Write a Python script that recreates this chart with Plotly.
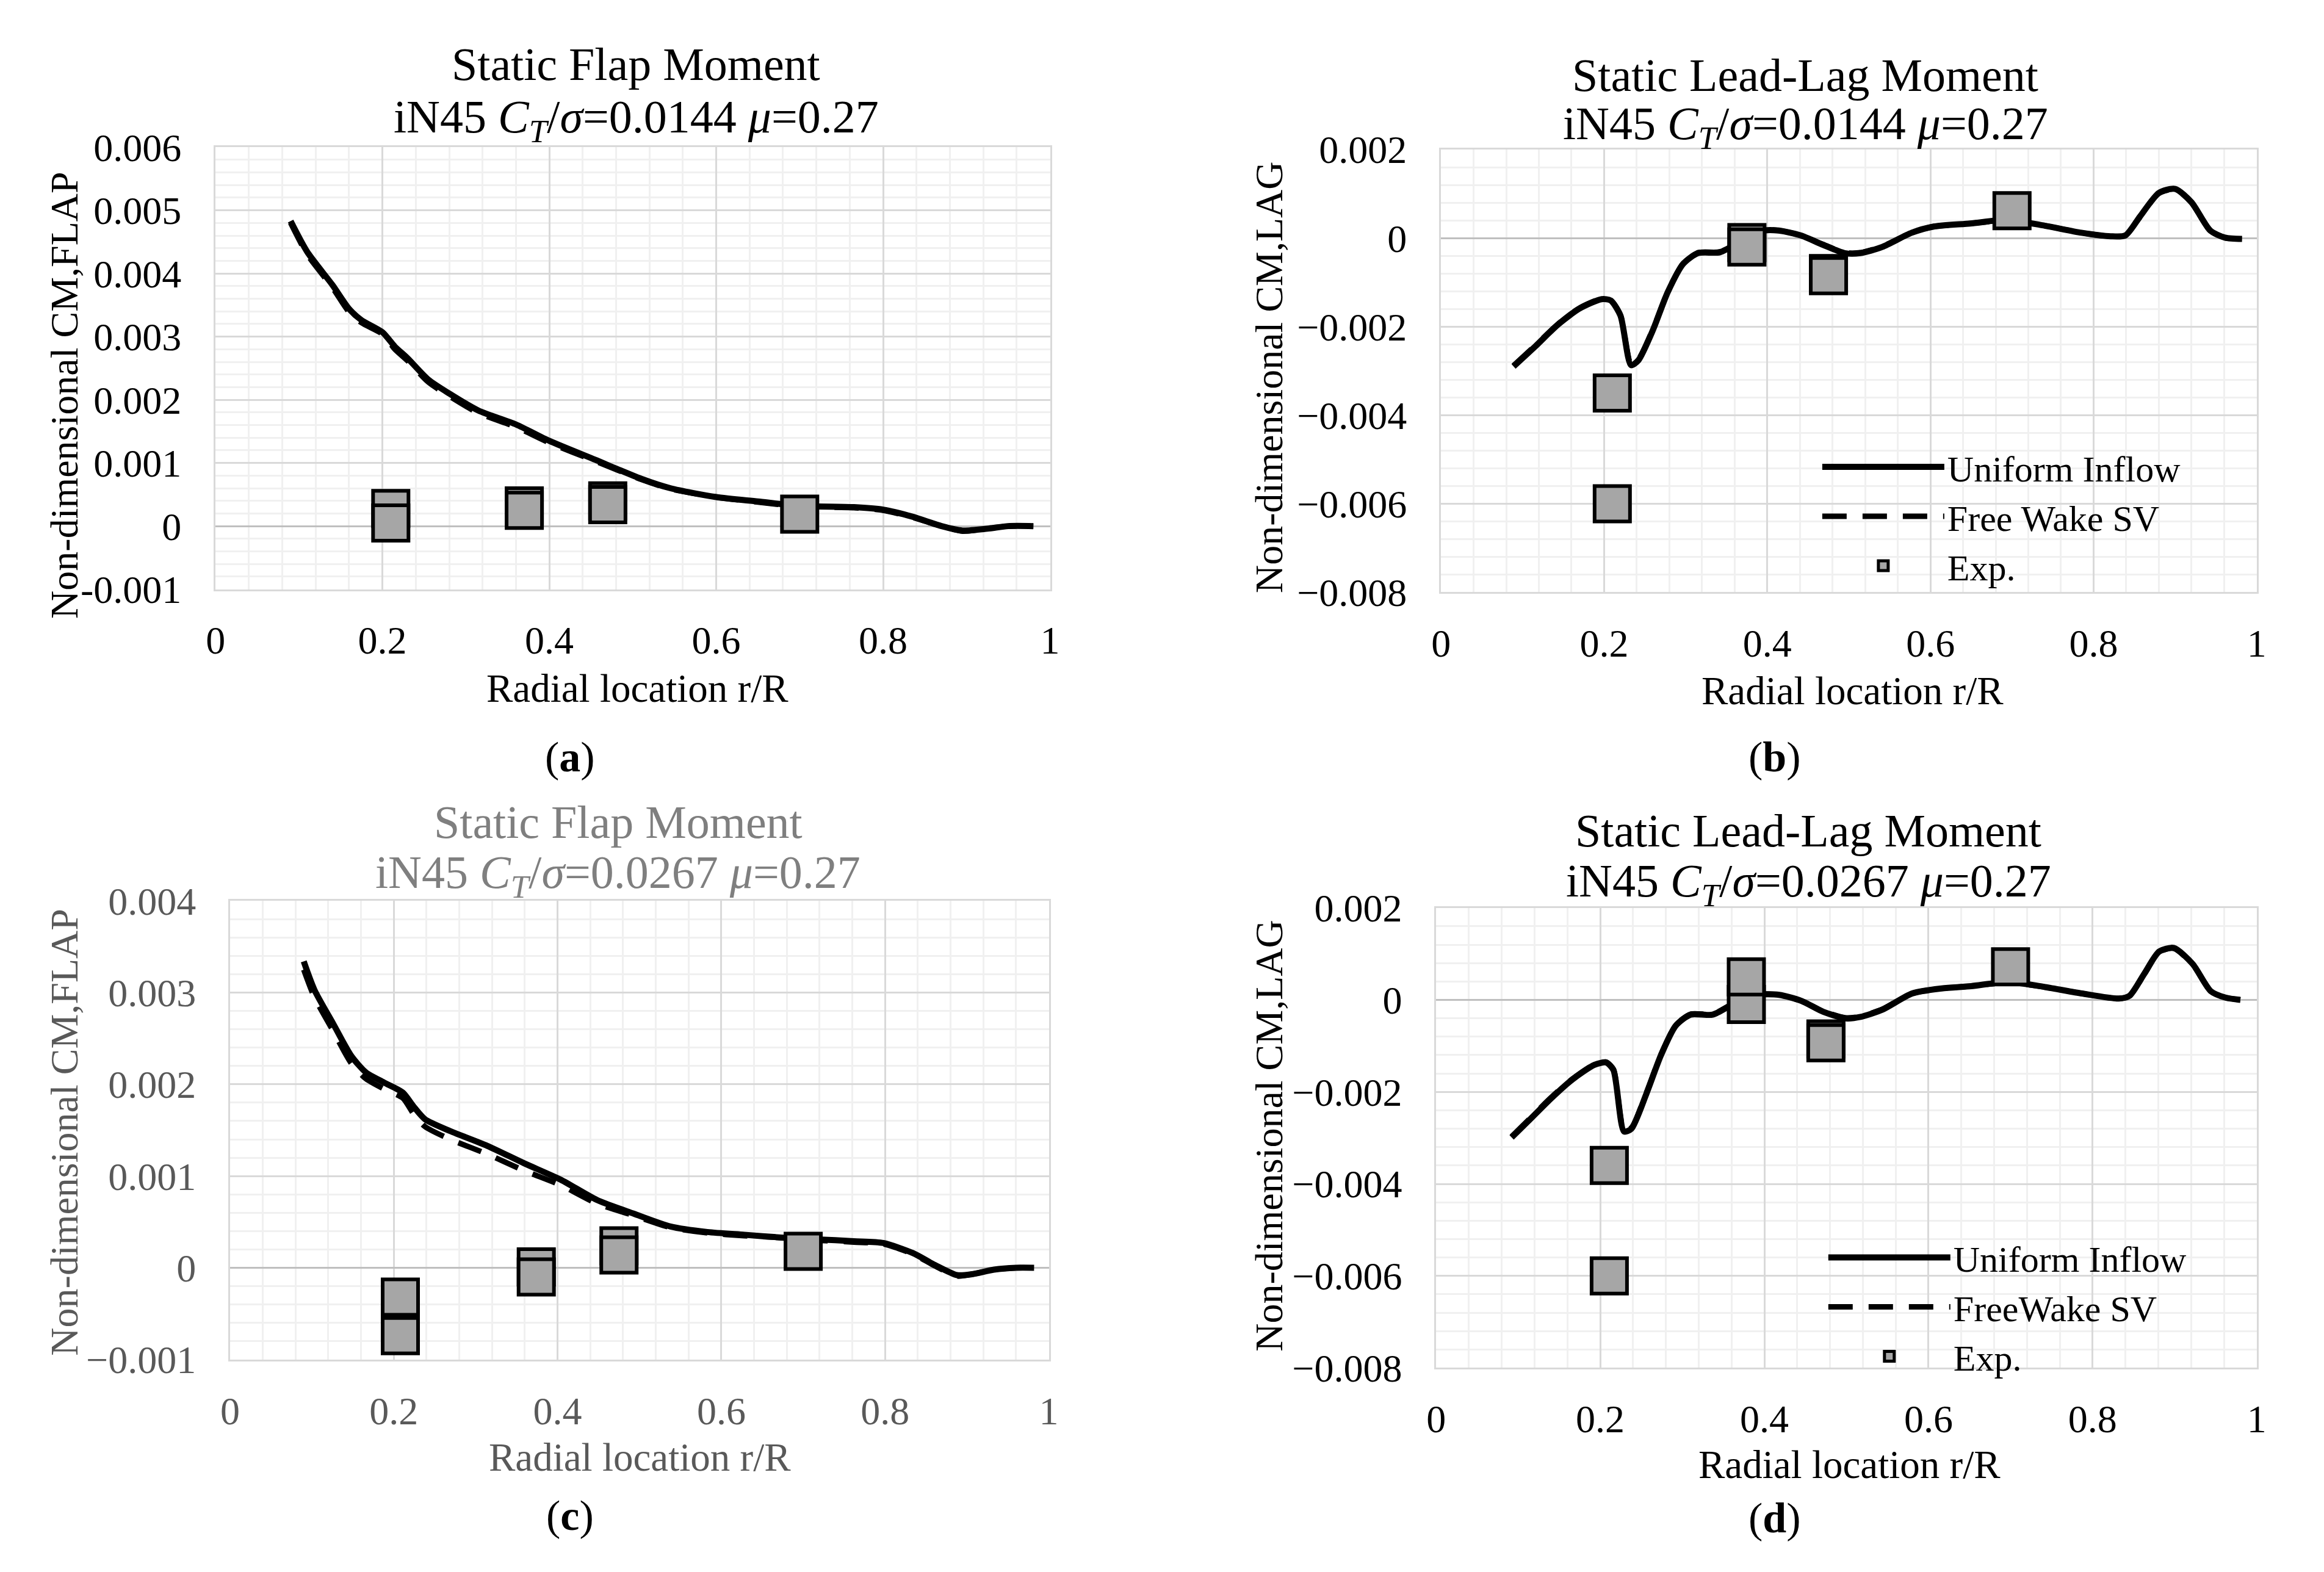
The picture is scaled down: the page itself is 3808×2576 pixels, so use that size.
import plotly.graph_objects as go

# ---------------- data ----------------
x_ticks = [0, 0.2, 0.4, 0.6, 0.8, 1]
x_tick_labels = ["0", "0.2", "0.4", "0.6", "0.8", "1"]
y_ticks_a = [-0.001, 0, 0.001, 0.002, 0.003, 0.004, 0.005, 0.006]
y_tick_labels_a = ["-0.001", "0", "0.001", "0.002", "0.003", "0.004", "0.005", "0.006"]
y_ticks_c = [-0.001, 0, 0.001, 0.002, 0.003, 0.004]
y_tick_labels_c = ["\u22120.001", "0", "0.001", "0.002", "0.003", "0.004"]
y_ticks_bd = [-0.008, -0.006, -0.004, -0.002, 0, 0.002]
y_tick_labels_bd = ["\u22120.008", "\u22120.006", "\u22120.004", "\u22120.002", "0", "0.002"]

# (a) Static flap moment, CT/sigma = 0.0144
r_a = [0.09, 0.11, 0.14, 0.16, 0.175, 0.20, 0.215, 0.23, 0.255, 0.28, 0.315, 0.36, 0.40,
       0.455, 0.51, 0.545, 0.60, 0.65, 0.70, 0.765, 0.80, 0.835, 0.87, 0.895, 0.925, 0.95, 0.98]
uni_a = [0.00483, 0.00434, 0.00382, 0.00344, 0.00326, 0.00307, 0.00284, 0.00266, 0.00232, 0.00210,
         0.00183, 0.00161, 0.00135, 0.00105, 0.00075, 0.00060, 0.00046, 0.00039, 0.00032, 0.00030,
         0.00026, 0.00015, 0.00000, -0.00007, -0.00004, 0.00000, 0.00000]
fw_a = [0.00480, 0.00430, 0.00378, 0.00339, 0.00322, 0.00304, 0.00280, 0.00262, 0.00228, 0.00206,
        0.00179, 0.00157, 0.00132, 0.00103, 0.00074, 0.00059, 0.00046, 0.00038, 0.00031, 0.00029,
        0.00025, 0.00014, 0.00000, -0.00008, -0.00004, 0.00000, 0.00000]
exp_r_a = [0.21, 0.21, 0.37, 0.37, 0.47, 0.47, 0.70]
exp_a = [0.00028, 0.00005, 0.00032, 0.00025, 0.00040, 0.00034, 0.00019]

# (b) Static lead-lag moment, CT/sigma = 0.0144
r_b = [0.089, 0.116, 0.143, 0.17, 0.197, 0.208, 0.22, 0.233, 0.242, 0.26, 0.278, 0.297, 0.315,
       0.342, 0.369, 0.396, 0.414, 0.441, 0.468, 0.495, 0.514, 0.541, 0.577, 0.604, 0.649, 0.694,
       0.74, 0.785, 0.821, 0.839, 0.857, 0.88, 0.90, 0.92, 0.943, 0.961, 0.982]
uni_b = [-0.00290, -0.00244, -0.00196, -0.00159, -0.00138, -0.00141, -0.00175, -0.00287, -0.00276,
         -0.00207, -0.00122, -0.00058, -0.00034, -0.00032, -0.00006, 0.00017, 0.00017, 0.00006,
         -0.00015, -0.00034, -0.00034, -0.00020, 0.00012, 0.00026, 0.00033, 0.00041, 0.00028,
         0.00012, 0.00004, 0.00006, 0.00049, 0.00102, 0.00111, 0.00081, 0.00017, 0.00001, -0.00002]
fw_b = [-0.00288, -0.00242, -0.00195, -0.00158, -0.00137, -0.00140, -0.00174, -0.00285, -0.00274,
        -0.00205, -0.00121, -0.00057, -0.00033, -0.00031, -0.00005, 0.00018, 0.00017, 0.00006,
        -0.00014, -0.00033, -0.00033, -0.00019, 0.00012, 0.00026, 0.00033, 0.00040, 0.00028,
        0.00012, 0.00004, 0.00006, 0.00048, 0.00101, 0.00110, 0.00080, 0.00017, 0.00001, -0.00002]
exp_r_b = [0.21, 0.21, 0.375, 0.375, 0.475, 0.475, 0.70]
exp_b = [-0.0035, -0.0060, -0.0001, -0.0002, -0.0008, -0.00085, 0.00062]

# (c) Static flap moment, CT/sigma = 0.0267
r_c = [0.09, 0.103, 0.126, 0.148, 0.166, 0.188, 0.211, 0.224, 0.238, 0.269, 0.314, 0.359, 0.404,
       0.448, 0.493, 0.538, 0.583, 0.628, 0.673, 0.717, 0.762, 0.798, 0.834, 0.861, 0.888, 0.906,
       0.933, 0.96, 0.982]
uni_c = [0.00334, 0.00303, 0.00266, 0.00231, 0.00213, 0.00202, 0.00191, 0.00176, 0.00162, 0.00149,
         0.00133, 0.00114, 0.00096, 0.00074, 0.00059, 0.00045, 0.00039, 0.00036, 0.00033, 0.00031,
         0.00029, 0.00027, 0.00016, 0.00003, -0.00008, -0.00007, -0.00002, 0.00000, 0.00000]
fw_c = [0.00325, 0.00295, 0.00258, 0.00223, 0.00206, 0.00195, 0.00185, 0.00168, 0.00154, 0.00140,
        0.00124, 0.00106, 0.00090, 0.00070, 0.00057, 0.00044, 0.00038, 0.00035, 0.00033, 0.00030,
        0.00028, 0.00026, 0.00015, 0.00002, -0.00009, -0.00007, -0.00002, 0.00000, 0.00000]
exp_r_c = [0.208, 0.208, 0.374, 0.374, 0.475, 0.475, 0.70]
exp_c = [-0.00032, -0.00074, 0.00001, -0.00010, 0.00024, 0.00014, 0.00018]

# (d) Static lead-lag moment, CT/sigma = 0.0267
r_d = [0.092, 0.112, 0.139, 0.166, 0.193, 0.207, 0.216, 0.229, 0.238, 0.256, 0.274, 0.292, 0.31,
       0.337, 0.364, 0.391, 0.418, 0.445, 0.472, 0.499, 0.517, 0.544, 0.58, 0.616, 0.652, 0.697,
       0.742, 0.787, 0.832, 0.845, 0.863, 0.881, 0.899, 0.922, 0.944, 0.962, 0.98]
uni_d = [-0.00299, -0.00264, -0.00216, -0.00173, -0.00141, -0.00136, -0.00152, -0.00286, -0.00280,
         -0.00205, -0.00120, -0.00056, -0.00032, -0.00032, -0.00007, 0.00011, 0.00011, -0.00002,
         -0.00026, -0.00040, -0.00037, -0.00021, 0.00014, 0.00025, 0.00030, 0.00039, 0.00028,
         0.00014, 0.00003, 0.00009, 0.00057, 0.00105, 0.00113, 0.00078, 0.00019, 0.00005, 0.00000]
fw_d = [-0.00297, -0.00262, -0.00214, -0.00172, -0.00140, -0.00135, -0.00151, -0.00284, -0.00278,
        -0.00203, -0.00119, -0.00055, -0.00031, -0.00031, -0.00006, 0.00012, 0.00011, -0.00002,
        -0.00025, -0.00039, -0.00036, -0.00020, 0.00014, 0.00025, 0.00030, 0.00038, 0.00028,
        0.00014, 0.00003, 0.00009, 0.00056, 0.00104, 0.00112, 0.00077, 0.00019, 0.00005, 0.00000]
exp_r_d = [0.211, 0.211, 0.378, 0.378, 0.475, 0.475, 0.70]
exp_d = [-0.0036, -0.0060, -0.0001, 0.0005, -0.00085, -0.00093, 0.00072]

# ---------------- figure ----------------
W, H = 3808, 2576
FONT = "Liberation Serif"
GRAYTXT = "#595959"

fig = go.Figure()

panels = [
    ("x", "y", r_a, uni_a, fw_a, exp_r_a, exp_a, "legend", False, "Free Wake SV"),
    ("x2", "y2", r_b, uni_b, fw_b, exp_r_b, exp_b, "legend", True, "Free Wake SV"),
    ("x3", "y3", r_c, uni_c, fw_c, exp_r_c, exp_c, "legend2", False, "FreeWake SV"),
    ("x4", "y4", r_d, uni_d, fw_d, exp_r_d, exp_d, "legend2", True, "FreeWake SV"),
]

for xa, ya, r, uni, fw, er, ev, lg, sl, fwname in panels:
    fig.add_trace(go.Scatter(x=r, y=fw, mode="lines", name=fwname, xaxis=xa, yaxis=ya,
                             line=dict(color="black", width=9, dash="40px,26px", shape="spline", smoothing=0.7),
                             legend=lg, showlegend=sl, legendrank=2))
    fig.add_trace(go.Scatter(x=r, y=uni, mode="lines", name="Uniform Inflow", xaxis=xa, yaxis=ya,
                             line=dict(color="black", width=10, shape="spline", smoothing=0.7),
                             legend=lg, showlegend=sl, legendrank=1))
    fig.add_trace(go.Scatter(x=er, y=ev, mode="markers", name="Exp.", xaxis=xa, yaxis=ya,
                             marker=dict(symbol="square", size=58, color="#a6a6a6",
                                         line=dict(color="black", width=6)),
                             legend=lg, showlegend=sl, legendrank=3))


def xaxis(domain, anchor, color):
    return dict(domain=domain, anchor=anchor, range=[0, 1], tickmode="array",
                tickvals=x_ticks, ticktext=x_tick_labels, showgrid=True,
                gridcolor="#d9d9d9", gridwidth=3,
                minor=dict(tickmode="linear", tick0=0, dtick=0.04, showgrid=True,
                           gridcolor="#f0f0f0", gridwidth=3),
                showline=True, mirror=True, linecolor="#d9d9d9", linewidth=3,
                zeroline=False, ticks="", ticklabelstandoff=26,
                tickfont=dict(family=FONT, size=64, color=color), fixedrange=True)


def yaxis(domain, anchor, rng, tv, tt, mdt, color):
    return dict(domain=domain, anchor=anchor, range=rng, tickmode="array",
                tickvals=tv, ticktext=tt, showgrid=True,
                gridcolor="#d9d9d9", gridwidth=3,
                minor=dict(tickmode="linear", tick0=0, dtick=mdt, showgrid=True,
                           gridcolor="#f0f0f0", gridwidth=3),
                showline=True, mirror=True, linecolor="#d9d9d9", linewidth=3,
                zeroline=True, zerolinecolor="#bfbfbf", zerolinewidth=3,
                ticks="", ticklabelstandoff=40,
                tickfont=dict(family=FONT, size=64, color=color), fixedrange=True)


def fx(px):
    return px / W


def fy(py):
    return 1 - py / H


dom = {
    "a": ([fx(340), fx(1719)], [fy(957), fy(212)]),
    "b": ([fx(2365), fx(3713)], [fy(962), fy(216)]),
    "c": ([fx(364), fx(1717)], [fy(2255), fy(1482)]),
    "d": ([fx(2357), fx(3713)], [fy(2269), fy(1494)]),
}

fig.update_layout(
    xaxis=xaxis(dom["a"][0], "y", "black"),
    yaxis=yaxis(dom["a"][1], "x", [-0.001, 0.006], y_ticks_a, y_tick_labels_a, 0.0002, "black"),
    xaxis2=xaxis(dom["b"][0], "y2", "black"),
    yaxis2=yaxis(dom["b"][1], "x2", [-0.008, 0.002], y_ticks_bd, y_tick_labels_bd, 0.0004, "black"),
    xaxis3=xaxis(dom["c"][0], "y3", GRAYTXT),
    yaxis3=yaxis(dom["c"][1], "x3", [-0.001, 0.004], y_ticks_c, y_tick_labels_c, 0.0002, GRAYTXT),
    xaxis4=xaxis(dom["d"][0], "y4", "black"),
    yaxis4=yaxis(dom["d"][1], "x4", [-0.008, 0.002], y_ticks_bd, y_tick_labels_bd, 0.0004, "black"),
)

legend_common = dict(xanchor="left", yanchor="top", bgcolor="rgba(0,0,0,0)",
                     font=dict(family=FONT, size=60, color="black"),
                     itemwidth=200, tracegroupgap=0, traceorder="normal")
fig.update_layout(
    legend=dict(x=fx(2990), y=fy(704), **legend_common),
    legend2=dict(x=fx(3000), y=fy(2036), **legend_common),
)

ann = []


def text(x, y, s, size, color="black", angle=0):
    ann.append(dict(x=fx(x), y=fy(y), xref="paper", yref="paper", text=s, showarrow=False,
                    xanchor="center", yanchor="middle", textangle=angle,
                    font=dict(family=FONT, size=size, color=color)))


sub14 = "iN45 <i>C<sub>T</sub></i>/<i>\u03c3</i>=0.0144 <i>\u03bc</i>=0.27"
sub27 = "iN45 <i>C<sub>T</sub></i>/<i>\u03c3</i>=0.0267 <i>\u03bc</i>=0.27"

# titles
text(1035, 72, "Static Flap Moment", 76)
text(1035, 167, sub14, 76)
text(2967, 90, "Static Lead-Lag Moment", 76)
text(2967, 178, sub14, 76)
text(1005, 1349, "Static Flap Moment", 76, "#7f7f7f")
text(1005, 1440, sub27, 76, "#7f7f7f")
text(2972, 1364, "Static Lead-Lag Moment", 76)
text(2972, 1454, sub27, 76)

# axis titles
text(1037, 1124, "Radial location r/R", 65)
text(3045, 1128, "Radial location r/R", 65)
text(1041, 2420, "Radial location r/R", 65, GRAYTXT)
text(3040, 2432, "Radial location r/R", 65)
text(90, 630, "Non-dimensional CM,FLAP", 64, "black", -90)
text(2081, 600, "Non-dimensional CM,LAG", 64, "black", -90)
text(90, 1872, "Non-dimensional CM,FLAP", 64, GRAYTXT, -90)
text(2081, 1878, "Non-dimensional CM,LAG", 64, "black", -90)

# panel labels
for x, y, s in [(926, 1240, "(<b>a</b>)"), (2917, 1240, "(<b>b</b>)"),
                (926, 2518, "(<b>c</b>)"), (2917, 2522, "(<b>d</b>)")]:
    text(x, y, s, 70)

fig.update_layout(
    width=W, height=H, margin=dict(l=0, r=0, t=0, b=0),
    paper_bgcolor="white", plot_bgcolor="white",
    annotations=ann, showlegend=True,
)

fig.write_html("out.html", config={"displayModeBar": False},
               post_script="document.body.style.margin='0';document.body.style.overflow='hidden';")
